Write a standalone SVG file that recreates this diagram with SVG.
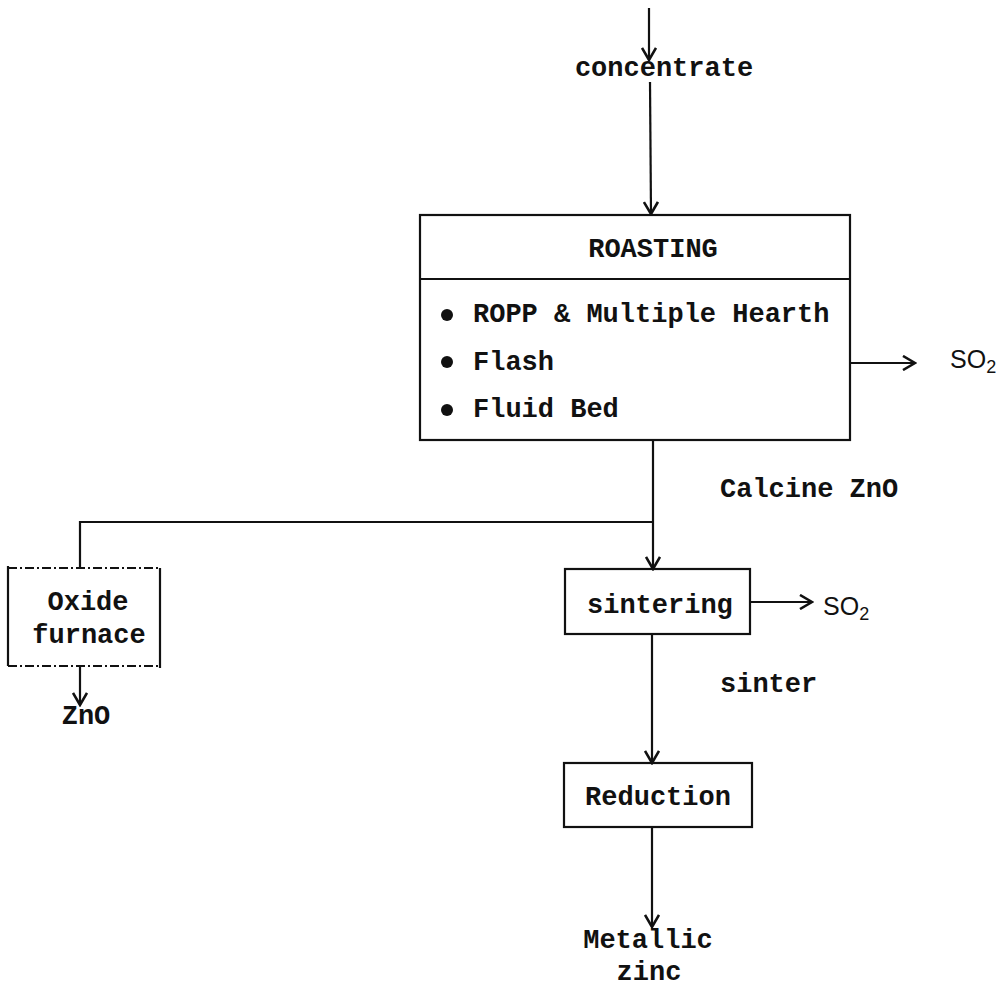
<svg xmlns="http://www.w3.org/2000/svg" width="998" height="987" viewBox="0 0 998 987">
<style>
.t{font-family:"Liberation Mono","DejaVu Sans Mono",monospace;font-size:27px;font-weight:bold;fill:#111}
.s{font-family:"Liberation Sans",Arial,sans-serif;font-size:25px;fill:#111}
.box{fill:none;stroke:#111;stroke-width:2.2}
.ln{fill:none;stroke:#111;stroke-width:2.2}
.dash{fill:none;stroke:#111;stroke-width:2;stroke-dasharray:9 3 2 3}
</style>
<defs>
<marker id="ar" markerWidth="16" markerHeight="16" refX="14" refY="8" orient="auto" markerUnits="userSpaceOnUse" viewBox="0 0 16 16">
<path d="M2,1 L14,8 L2,15" fill="none" stroke="#111" stroke-width="2.6"/>
</marker>
</defs>
<g id="connectors">
<line class="ln" x1="649" y1="8" x2="649" y2="60" marker-end="url(#ar)"/>
<line class="ln" x1="650" y1="82" x2="651" y2="214" marker-end="url(#ar)"/>
<line class="ln" x1="850" y1="363" x2="915" y2="363" marker-end="url(#ar)"/>
<line class="ln" x1="653" y1="440" x2="653" y2="569" marker-end="url(#ar)"/>
<polyline class="ln" points="653,522 80,522 80,568"/>
<line class="ln" x1="80" y1="666" x2="80" y2="705" marker-end="url(#ar)"/>
<line class="ln" x1="750" y1="602" x2="812" y2="602" marker-end="url(#ar)"/>
<line class="ln" x1="652" y1="634" x2="652" y2="763" marker-end="url(#ar)"/>
<line class="ln" x1="652" y1="827" x2="652" y2="927" marker-end="url(#ar)"/>
</g>
<g id="concentrate"><text class="t" x="664" y="76" text-anchor="middle">concentrate</text></g>
<g id="roasting">
<rect class="box" x="420" y="215" width="430" height="225"/>
<line class="ln" x1="420" y1="279" x2="850" y2="279"/>
<text class="t" x="653" y="257" text-anchor="middle">ROASTING</text>
<circle cx="447" cy="315" r="6" fill="#111"/>
<circle cx="447" cy="362" r="6" fill="#111"/>
<circle cx="447" cy="410" r="6" fill="#111"/>
<text class="t" x="473" y="322">ROPP &amp; Multiple Hearth</text>
<text class="t" x="473" y="370">Flash</text>
<text class="t" x="473" y="417">Fluid Bed</text>
</g>
<g id="so2-1"><text class="s" x="950" y="368">SO<tspan font-size="18" dy="5">2</tspan></text></g>
<g id="calcine"><text class="t" x="720" y="497">Calcine ZnO</text></g>
<g id="oxide">
<line class="dash" x1="8" y1="568" x2="160" y2="568"/>
<line class="dash" x1="8" y1="666" x2="160" y2="666"/>
<line class="ln" x1="8" y1="566" x2="8" y2="666"/>
<line class="ln" x1="160" y1="568" x2="160" y2="668"/>
<text class="t" x="88" y="610" text-anchor="middle">Oxide</text>
<text class="t" x="89" y="643" text-anchor="middle">furnace</text>
</g>
<g id="zno"><text class="t" x="86" y="724" text-anchor="middle">ZnO</text></g>
<g id="sintering">
<rect class="box" x="565" y="569" width="185" height="65"/>
<text class="t" x="587" y="613">sintering</text>
</g>
<g id="so2-2"><text class="s" x="823" y="615">SO<tspan font-size="18" dy="5">2</tspan></text></g>
<g id="sinter"><text class="t" x="720" y="692">sinter</text></g>
<g id="reduction">
<rect class="box" x="564" y="763" width="188" height="64"/>
<text class="t" x="658" y="805" text-anchor="middle">Reduction</text>
</g>
<g id="metallic">
<text class="t" x="648" y="948" text-anchor="middle">Metallic</text>
<text class="t" x="649" y="980" text-anchor="middle">zinc</text>
</g>
</svg>
